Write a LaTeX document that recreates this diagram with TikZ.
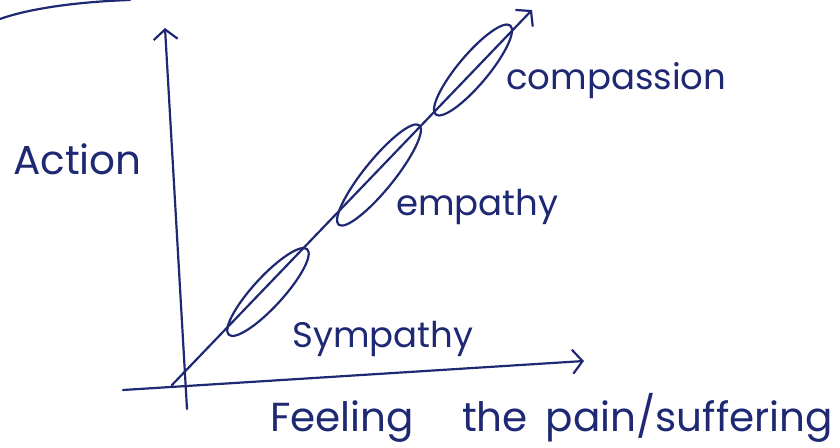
\documentclass[tikz,border=0pt]{standalone}
\usepackage{fontspec}
\setmainfont{Poppins}
\usetikzlibrary{arrows.meta,positioning,shapes.geometric}
\definecolor{ink}{RGB}{30,40,115}
\tikzset{pen/.style={draw=ink,line width=2.2pt,line cap=round,line join=round},
 axis/.style={pen,-{Straight Barb[length=10pt,width=24pt,line width=2.2pt]}},
 blob/.style={pen,ellipse,inner sep=0pt,minimum height=30pt},
 lbl/.style={text=ink,anchor=base west,inner sep=0pt,font=\fontsize{35.5}{40}\selectfont},
 big/.style={lbl,font=\fontsize{40.5}{46}\selectfont}}
\begin{document}
\begin{tikzpicture}[x=1pt,y=-1pt]
\useasboundingbox (0,0) rectangle (840,447);
% axes
\coordinate (vb) at (187,409);
\coordinate (vt) at (165,28);
\coordinate (hl) at (123,390);
\coordinate (hr) at (584,361);
\coordinate (d0) at (172,385);
\coordinate (d1) at (532,10);
\draw[axis] (vb) -- (vt);
\draw[axis] (hl) -- (hr);
\draw[axis] (d0) -- (d1);
% stages
\node[blob,rotate=47.5,minimum width=116pt] (symp) at (268,292) {};
\node[blob,rotate=51,minimum width=128pt] (emp) at (379,175) {};
\node[blob,rotate=50,minimum width=116pt] (comp) at (473,70) {};
\node[lbl] (tcomp) at (506,89) {compassion};
\node[lbl] (temp) at (396,215) {empathy};
\node[lbl] (tsymp) at (292,347) {Sympathy};
\node[big] (tact) at (13,174) {Action};
\node[big] (tfeel) at (270,431) {Feeling\hspace{48pt}the\hspace{18pt}pain/suffering};
% edge of the sheet
\draw[pen] (0,19) .. controls (25,10) and (70,2) .. (130,0);
\end{tikzpicture}
\end{document}
